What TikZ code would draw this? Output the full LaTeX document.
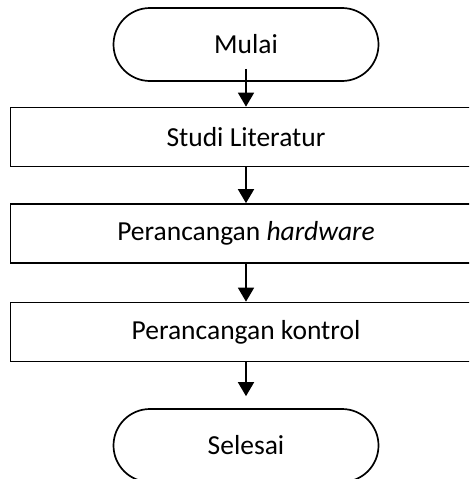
\documentclass[tikz,border=0pt]{standalone}
\usepackage{fontspec}
\setmainfont{Carlito}
\usetikzlibrary{shapes.misc,arrows.meta}

\begin{document}
\begin{tikzpicture}[x=1pt,y=-1pt,
		font=\fontsize{27.5}{31}\selectfont,
		terminal/.style={draw,line width=1.7pt,rounded rectangle,minimum width=265pt,minimum height=73pt,inner sep=0pt},
		process/.style={draw,line width=1.7pt,rectangle,minimum width=471pt,minimum height=59pt,inner sep=0pt},
		flow/.style={line width=1.7pt,-{Triangle[width=16pt,length=14pt]}}]
		\useasboundingbox (0,0) rectangle (469,479);
		\clip (0,0) rectangle (469,479);
		% start and end:
		\node [terminal] (mulai) at (246,44.5) {Mulai};
		\node [terminal] (selesai) at (246,445.5) {Selesai};
		% steps:
		\node [process] (studi) at (246,137) {Studi Literatur};
		\node [process] (hardware) at (246,233.5) {Perancangan \textit{hardware}};
		\node [process] (kontrol) at (246,332) {Perancangan kontrol};
		% arrows:
		\draw [flow] ([yshift=13pt]mulai.south) -- (studi.north);
		\draw [flow] (studi.south) -- (hardware.north);
		\draw [flow] (hardware.south) -- (kontrol.north);
		\draw [flow] (kontrol.south) -- ([yshift=12pt]selesai.north);
\end{tikzpicture}
\end{document}
